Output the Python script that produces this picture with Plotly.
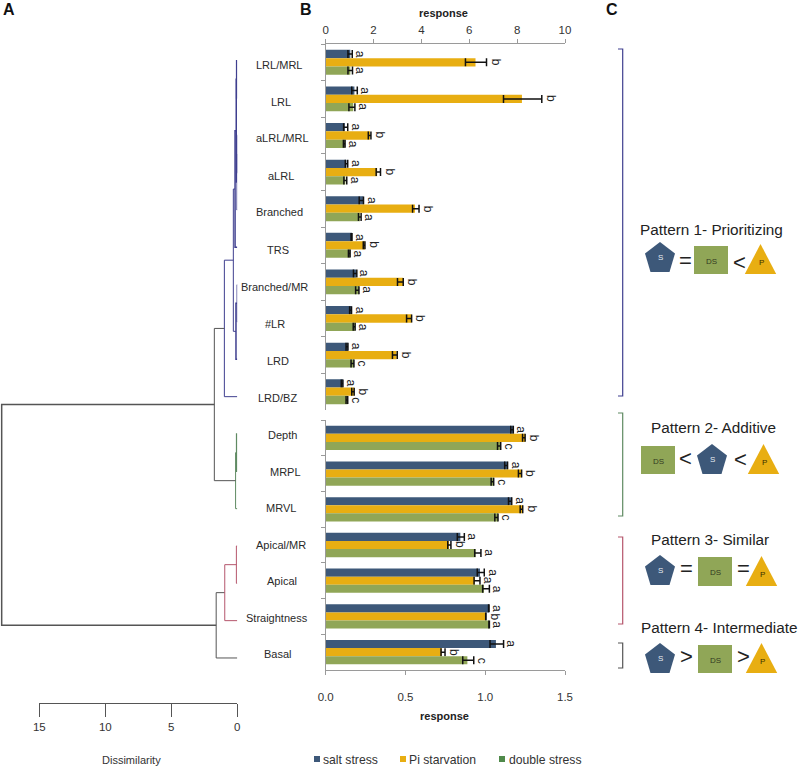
import plotly.graph_objects as go

W, H = 799, 768
FONT = "Liberation Sans"
NAVY, GOLD, OLIVE = "#3d5879", "#e8ae12", "#90a657"
LEGEND_GREEN = "#4f8a4a"
PURPLE, GREEN, RED, DARK = "#3f3f8f", "#5f8a62", "#b5566c", "#555555"

traits_top = ["LRL/MRL", "LRL", "aLRL/MRL", "aLRL", "Branched", "TRS", "Branched/MR", "#LR", "LRD", "LRD/BZ"]
traits_bot = ["Depth", "MRPL", "MRVL", "Apical/MR", "Apical", "Straightness", "Basal"]
traits = traits_top + traits_bot
series_names = ["salt stress", "Pi starvation", "double stress"]

salt_top = [1.03, 1.20, 0.80, 0.87, 1.57, 1.10, 1.27, 1.08, 0.93, 0.72]
pi_top = [6.26, 8.20, 1.85, 2.15, 3.73, 1.64, 3.24, 3.59, 2.96, 1.18]
ds_top = [1.03, 1.15, 0.80, 0.82, 1.43, 1.02, 1.39, 1.22, 1.18, 0.92]
salt_top_minus = [0.10, 0.11, 0.05, 0.05, 0.17, 0.04, 0.11, 0.08, 0.08, 0.07]
salt_top_plus = [0.08, 0.12, 0.12, 0.05, 0.01, 0.00, 0.03, 0.00, 0.00, 0.00]
pi_top_minus = [0.42, 0.77, 0.07, 0.04, 0.10, 0.07, 0.24, 0.21, 0.17, 0.09]
pi_top_plus = [0.46, 0.83, 0.04, 0.14, 0.17, 0.00, 0.00, 0.00, 0.03, 0.01]
ds_top_minus = [0.10, 0.18, 0.06, 0.06, 0.06, 0.07, 0.14, 0.07, 0.12, 0.07]
ds_top_plus = [0.09, 0.07, 0.01, 0.06, 0.05, 0.00, 0.00, 0.01, 0.00, 0.00]

salt_bot = [1.176, 1.140, 1.166, 0.844, 0.967, 1.024, 1.067]
pi_bot = [1.250, 1.228, 1.235, 0.773, 0.934, 1.005, 0.727]
ds_bot = [1.097, 1.053, 1.080, 0.940, 0.992, 1.026, 0.888]
salt_bot_minus = [0.016, 0.018, 0.020, 0.019, 0.017, 0.003, 0.037]
salt_bot_plus = [0.000, 0.000, 0.000, 0.025, 0.027, 0.000, 0.048]
pi_bot_minus = [0.016, 0.020, 0.016, 0.008, 0.004, 0.002, 0.004]
pi_bot_plus = [0.000, 0.000, 0.000, 0.012, 0.033, 0.000, 0.021]
ds_bot_minus = [0.020, 0.016, 0.020, 0.006, 0.008, 0.003, 0.029]
ds_bot_plus = [0.000, 0.000, 0.000, 0.033, 0.034, 0.000, 0.040]

letters_top = {
    "salt": ["a"] * 10,
    "pi": ["b"] * 10,
    "ds": ["a", "a", "a", "a", "a", "a", "a", "a", "c", "c"],
}
letters_bot = {
    "salt": ["a"] * 7,
    "pi": ["b", "b", "b", "b", "a", "b", "b"],
    "ds": ["c", "c", "c", "a", "a", "a", "c"],
}

# Dendrogram: (name, child, child, merge height, colour, width). Ints are leaves.
merges = [
    ("n0", 0, 1, 0.05, PURPLE, 1.5), ("n1", 2, 3, 0.02, PURPLE, 1.5), ("n2", "n1", 4, 0.03, PURPLE, 1),
    ("n3", "n0", "n2", 0.08, PURPLE, 1.5), ("n4", "n3", 5, 0.17, PURPLE, 1.5), ("n5", 6, 7, 0.02, PURPLE, 1),
    ("n6", "n5", 8, 0.10, PURPLE, 1.5), ("n7", "n4", "n6", 0.30, PURPLE, 1), ("n8", "n7", 9, 0.98, PURPLE, 1),
    ("n9", 10, 11, 0.05, GREEN, 1.5), ("n10", "n9", 12, 0.13, GREEN, 1),
    ("n11", "n8", "n10", 1.74, DARK, 1), ("n12", 13, 14, 0.07, RED, 1), ("n13", "n12", 15, 0.95, RED, 1),
    ("n14", "n13", 16, 1.60, DARK, 1), ("root", "n11", "n14", 17.85, DARK, 1.5),
]


def px(x):
    return x / W


def py(y):
    return 1 - y / H


fig = go.Figure()


def add_group(values, minus, plus, name, color, xa, ya, cats):
    fig.add_trace(go.Bar(
        y=cats, x=values, name=name, orientation="h", xaxis=xa, yaxis=ya, showlegend=False,
        marker=dict(color=color, line=dict(width=0)),
        error_x=dict(type="data", symmetric=False, array=plus, arrayminus=minus,
                     color="#111111", thickness=1.5, width=4),
    ))


top_sets = [(salt_top, salt_top_minus, salt_top_plus, NAVY), (pi_top, pi_top_minus, pi_top_plus, GOLD),
            (ds_top, ds_top_minus, ds_top_plus, OLIVE)]
bot_sets = [(salt_bot, salt_bot_minus, salt_bot_plus, NAVY), (pi_bot, pi_bot_minus, pi_bot_plus, GOLD),
            (ds_bot, ds_bot_minus, ds_bot_plus, OLIVE)]
for (v, m, p, c), n in zip(top_sets, series_names):
    add_group(v, m, p, n, c, "x", "y", traits_top)
for (v, m, p, c), n in zip(bot_sets, series_names):
    add_group(v, m, p, n, c, "x2", "y2", traits_bot)

pos = {i: (0.0, float(i)) for i in range(len(traits))}
by_style = {}
for name, a, b, h, color, width in merges:
    ha, ya_ = pos[a]
    hb, yb_ = pos[b]
    by_style.setdefault((color, width), []).append(([ha, h, h, hb, None], [ya_, ya_, yb_, yb_, None]))
    pos[name] = (h, (ya_ + yb_) / 2)
for (color, width), segs in by_style.items():
    xs, ys = [], []
    for sx, sy in segs:
        xs += sx
        ys += sy
    fig.add_trace(go.Scatter(x=xs, y=ys, mode="lines", xaxis="x3", yaxis="y3", showlegend=False,
                             line=dict(color=color, width=width), hoverinfo="skip"))

# Invisible traces that keep the scale axis and the page-overlay axis alive
fig.add_trace(go.Scatter(x=[0, 15], y=[0, 1], mode="markers", xaxis="x4", yaxis="y4", showlegend=False,
                         marker=dict(opacity=0), hoverinfo="skip"))
fig.add_trace(go.Scatter(x=[0, W], y=[0, H], mode="markers", xaxis="x5", yaxis="y5", showlegend=False,
                         marker=dict(opacity=0), hoverinfo="skip"))

annotations = []


def text(x, y, s, size=12, color="#333333", bold=False, angle=0):
    annotations.append(dict(
        x=x, y=y, xref="x5", yref="y5", showarrow=False, textangle=angle,
        text=f"<b>{s}</b>" if bold else s, xanchor="center", yanchor="middle",
        font=dict(family=FONT, size=size, color=color)))


def letter_row(values, plus, letters, cats, xref, yref, shift):
    for v, p, l, c in zip(values, plus, letters, cats):
        annotations.append(dict(
            x=v + p, y=c, xref=xref, yref=yref, showarrow=False, text=l, textangle=90,
            xanchor="center", yanchor="middle", xshift=9 if l == "b" else 8, yshift=shift,
            font=dict(family=FONT, size=12, color="#222222")))


for (s, key, shift) in zip(top_sets, ["salt", "pi", "ds"], [8.3, 0, -8.3]):
    letter_row(s[0], s[2], letters_top[key], traits_top, "x", "y", shift)
for (s, key, shift) in zip(bot_sets, ["salt", "pi", "ds"], [8.3, 0, -8.3]):
    letter_row(s[0], s[2], letters_bot[key], traits_bot, "x2", "y2", shift)

label_centres = [(279, 65), (281, 102), (282, 138), (281, 176), (279, 212), (278, 250), (274, 287), (275, 324),
                 (278, 361), (277, 398), (282, 435), (285, 472), (281, 508), (281, 545), (282, 581), (277, 618),
                 (278, 654)]
for name, (lx, ly) in zip(traits, label_centres):
    text(lx, ly, name, size=11, color="#2a2a2a")

text(9, 9, "A", size=16, color="#111111", bold=True)
text(306, 9, "B", size=16, color="#111111", bold=True)
text(612, 9, "C", size=16, color="#111111", bold=True)
text(443, 13, "response", size=11, color="#222222", bold=True)
text(444, 716, "response", size=11, color="#222222", bold=True)
text(131, 760, "Dissimilarity", size=11)

legend_items = [(317, 350.5, NAVY, "salt stress"), (403, 442.5, GOLD, "Pi starvation"),
                (502, 545.5, LEGEND_GREEN, "double stress")]
shapes = []
for sq, tx, col, lab in legend_items:
    shapes.append(dict(type="rect", xref="paper", yref="paper", x0=px(sq - 3), x1=px(sq + 3), y0=py(762), y1=py(756),
                       fillcolor=col, line=dict(width=0)))
    text(tx, 759.5, lab, size=12.2, color="#333333")


def path(points, close=False):
    d = "M " + " L ".join(f"{px(x):.5f} {py(y):.5f}" for x, y in points)
    return d + (" Z" if close else "")


def poly(points, fill):
    shapes.append(dict(type="path", xref="paper", yref="paper", path=path(points, True),
                       fillcolor=fill, line=dict(width=0), layer="below"))


def pentagon(cx, top, bottom):
    h = bottom - top
    poly([(cx, top), (cx + 15, top + 0.38 * h), (cx + 9.5, bottom), (cx - 9.5, bottom), (cx - 15, top + 0.38 * h)], NAVY)
    text(cx, top + 0.55 * h - 1, "S", size=8, color="#e8edf2")


def square(x0, x1, y0, y1):
    poly([(x0, y0), (x1, y0), (x1, y1), (x0, y1)], OLIVE)
    text((x0 + x1) / 2, (y0 + y1) / 2 + 1, "DS", size=8, color="#333a22")


def triangle(cx, top, bottom):
    poly([(cx, top), (cx + 15.7, bottom), (cx - 15.7, bottom)], GOLD)
    text(cx + 0.5, top + 0.62 * (bottom - top), "P", size=8, color="#3a3000")


for (y0, y1, col) in [(49, 396, PURPLE), (413, 516, GREEN), (537, 624, RED), (643, 668, DARK)]:
    shapes.append(dict(type="path", xref="paper", yref="paper",
                       path=path([(618, y0), (622.7, y0), (622.7, y1), (618, y1)]),
                       line=dict(color=col, width=1.2)))

PAT = 15.3
text(711, 229, "Pattern 1- Prioritizing", size=PAT, color="#222222")
pentagon(660, 242, 272)
text(685, 260, "=", size=22, color="#222222")
square(694, 728, 246, 274)
text(739, 262, "&lt;", size=22, color="#222222")
triangle(760.5, 244, 274)

text(713, 427, "Pattern 2- Additive", size=PAT, color="#222222")
square(641, 675, 446, 474)
text(685, 458, "&lt;", size=22, color="#222222")
pentagon(712, 444, 474)
text(740, 459, "&lt;", size=22, color="#222222")
triangle(763.5, 444, 474)

text(710, 539, "Pattern 3- Similar", size=PAT, color="#222222")
pentagon(660, 555, 585)
text(686, 568, "=", size=22, color="#222222")
square(698, 732, 557, 586)
text(743, 568, "=", size=22, color="#222222")
triangle(761.5, 556, 586)

text(719, 627, "Pattern 4- Intermediate", size=PAT, color="#222222")
pentagon(660, 643, 673)
text(686, 656, "&gt;", size=22, color="#222222")
square(698, 732, 645, 673)
text(743, 656, "&gt;", size=22, color="#222222")
triangle(761.5, 643, 673)

AX = "#9a9a9a"
TICKFONT = dict(family=FONT, size=11.5, color="#333333")
leaf_step = 37.33
first_leaf = 60.7
fig.update_layout(
    template="none",
    width=W, height=H, margin=dict(l=0, r=0, t=0, b=0, pad=0), autosize=False,
    paper_bgcolor="white", plot_bgcolor="rgba(0,0,0,0)",
    barmode="group", bargap=0.32, bargroupgap=0, showlegend=False,
    annotations=annotations, shapes=shapes,
    xaxis=dict(domain=[px(325.7), px(565)], range=[0, 10], side="top", anchor="y", tickvals=[0, 2, 4, 6, 8, 10],
               showline=True, linecolor=AX, linewidth=1.2, ticks="outside", ticklen=4, tickcolor=AX,
               showgrid=False, zeroline=False, tickfont=TICKFONT, automargin=False),
    yaxis=dict(domain=[py(410), py(44)], range=[9.5, -0.5], type="category", anchor="x", showticklabels=False,
               showline=True, linecolor=AX, linewidth=1.2, ticks="outside", ticklen=4, tickcolor=AX,
               tickson="boundaries", showgrid=False, zeroline=False, automargin=False),
    xaxis2=dict(domain=[px(325.7), px(565)], range=[0, 1.5], side="bottom", anchor="y2", tickvals=[0, 0.5, 1, 1.5],
                tickformat=".1f", showline=True, linecolor=AX, linewidth=1.2, ticks="outside", ticklen=4, tickcolor=AX,
                showgrid=False, zeroline=False, tickfont=TICKFONT, ticklabelstandoff=12, automargin=False),
    yaxis2=dict(domain=[py(670), py(420)], range=[6.5, -0.5], type="category", anchor="x2", showticklabels=False,
                showline=True, linecolor=AX, linewidth=1.2, ticks="outside", ticklen=4, tickcolor=AX,
                tickson="boundaries", showgrid=False, zeroline=False, automargin=False),
    xaxis3=dict(domain=[0, px(237.3)], range=[237.3 / 13.2, 0], anchor="y3", visible=False, automargin=False),
    yaxis3=dict(domain=[0, 1], range=[(H - first_leaf) / leaf_step, -first_leaf / leaf_step], anchor="x3",
                visible=False, automargin=False),
    xaxis4=dict(domain=[px(39.3), px(237.3)], range=[15, 0], anchor="free", position=py(703),
                tickvals=[15, 10, 5, 0], showline=True, linecolor="#555555", linewidth=1, ticks="outside",
                ticklen=13, tickcolor="#555555", showgrid=False, zeroline=False, tickfont=TICKFONT, automargin=False),
    yaxis4=dict(domain=[py(720), py(700)], range=[0, 1], anchor="x4", visible=False, automargin=False),
    xaxis5=dict(domain=[0, 1], range=[0, W], anchor="y5", visible=False, automargin=False),
    yaxis5=dict(domain=[0, 1], range=[H, 0], anchor="x5", visible=False, automargin=False),
)
fig.write_html("out.html", config={"displayModeBar": False},
               post_script="document.body.style.margin='0';document.body.style.overflow='hidden';")
